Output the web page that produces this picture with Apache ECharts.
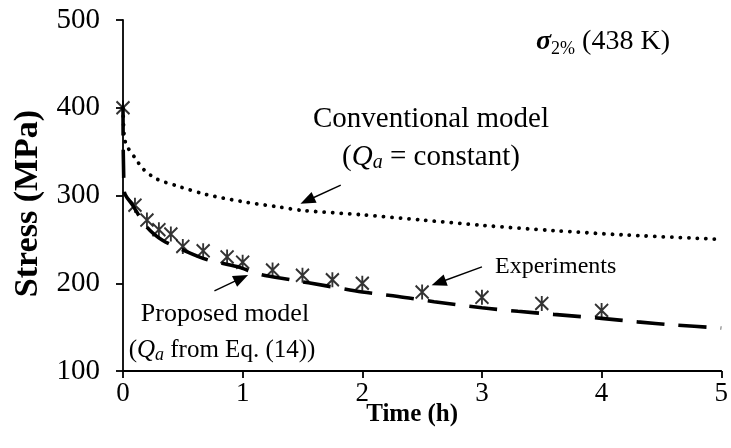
<!DOCTYPE html>
<html>
<head>
<meta charset="utf-8">
<script src="https://cdn.jsdelivr.net/npm/echarts@6/dist/echarts.min.js"></script>
<style>
  html, body { margin: 0; padding: 0; background: #fff; }
  #chart { width: 731px; height: 448px; }
</style>
</head>
<body>
<div id="chart"></div>
<script>
// Creep stress relaxation at 438 K: measured points and two model predictions
const expTime   = [0, 0.1, 0.2, 0.3, 0.4, 0.5, 0.67, 0.87, 1.0, 1.25, 1.5, 1.75, 2.0, 2.5, 3.0, 3.5, 4.0];
const expStress = [400, 289, 272, 261, 256, 242, 237, 230, 224, 215, 209, 204, 200, 190, 184, 177, 169];

const convTime   = [0, 0.01, 0.03, 0.1, 0.17, 0.28, 0.45, 0.7, 1.0, 1.3, 1.5, 2.0, 2.5, 3.0, 3.6, 4.2, 5.0];
const convStress = [400, 368, 357, 343, 330, 319, 311, 301, 293, 287, 283, 278, 272, 266, 260, 255, 250];

const propTime   = [0, 0.01, 0.08, 0.2, 0.33, 0.5, 0.7, 0.95, 1.15, 1.4, 1.7, 2.0, 2.3, 2.6, 3.0, 3.3, 3.6, 4.0, 4.3, 4.6, 5.0];
const propStress = [400, 305, 289, 264, 249, 238, 227, 219, 210, 204, 197, 190, 185, 179, 172, 168, 164.5, 160, 156, 152.5, 149];

const xTicks = [0, 1, 2, 3, 4, 5];
const yTicks = [100, 200, 300, 400, 500];

const zip = (xs, ys) => xs.map((x, i) => [x, ys[i]]);
const serif = '"Liberation Serif", "DejaVu Serif", serif';

const chart = echarts.init(document.getElementById('chart'), null, { renderer: 'canvas' });

chart.setOption({
  animation: false,
  backgroundColor: '#fff',
  grid: { left: 123, right: 8, top: 20, bottom: 77, containLabel: false },
  xAxis: {
    type: 'value',
    min: xTicks[0], max: xTicks[xTicks.length - 1], interval: 1,
    name: 'Time (h)', nameLocation: 'middle', nameGap: 31, nameMoveOverlap: false,
    nameTextStyle: { fontFamily: serif, fontWeight: 'bold', fontSize: 25, color: '#000', padding: [0, 20, 0, 0], verticalAlign: 'top' },
    axisLine: { onZero: false, lineStyle: { color: '#000', width: 1.8 } },
    axisTick: { show: true, inside: false, length: 7, lineStyle: { color: '#000', width: 1.8 } },
    axisLabel: { fontFamily: serif, fontSize: 27, color: '#000', margin: 9 },
    splitLine: { show: false }
  },
  yAxis: {
    type: 'value',
    min: yTicks[0], max: yTicks[yTicks.length - 1], interval: 100,
    name: 'Stress (MPa)', nameLocation: 'middle', nameGap: 78, nameRotate: 90, nameMoveOverlap: false,
    nameTextStyle: { fontFamily: serif, fontWeight: 'bold', fontSize: 34, color: '#000', padding: [0, 16, 0, 0] },
    axisLine: { show: true, onZero: false, lineStyle: { color: '#000', width: 1.8 } },
    axisTick: { show: true, inside: false, length: 7, lineStyle: { color: '#000', width: 1.8 } },
    axisLabel: { fontFamily: serif, fontSize: 29, color: '#000', margin: 23 },
    splitLine: { show: false }
  },
  series: [
    {
      name: 'Conventional model',
      type: 'line',
      data: zip(convTime, convStress),
      smooth: 0.3,
      showSymbol: false,
      lineStyle: { color: '#000', width: 3.8, type: [0.1, 8.4], cap: 'round' },
      markLine: {
        silent: true,
        symbol: ['none', 'triangle'],
        symbolSize: [12, 15],
        label: { show: false },
        lineStyle: { color: '#000', width: 1.4, type: 'solid' },
        data: [
          [{ coord: [1.82, 311.9] }, { coord: [1.54, 294.3] }],
          [{ coord: [3.0, 218.7] }, { coord: [2.638, 200.6] }],
          [{ coord: [0.764, 191.3] }, { coord: [0.989, 205.8] }]
        ]
      }
    },
    {
      name: 'Proposed model',
      type: 'line',
      data: zip(propTime, propStress),
      smooth: 0.3,
      showSymbol: false,
      lineStyle: { color: '#000', width: 3.6, type: [28, 14] }
    },
    {
      name: 'Experiments',
      type: 'scatter',
      data: zip(expTime, expStress),
      symbol: 'path://M0 1L12 13M12 1L0 13M6 0L6 14',
      symbolSize: [13, 15],
      itemStyle: { color: 'rgba(0,0,0,0)', borderColor: '#000', borderWidth: 2 },
      z: 5
    }
  ],
  graphic: [
    {
      type: 'text', left: 536, top: 28,
      style: {
        text: '{g|σ}{sub|2%}{n| (438 K)}',
        rich: {
          g: { fontFamily: serif, fontSize: 28, fontWeight: 'bold', fontStyle: 'italic', fill: '#000' },
          sub: { fontFamily: serif, fontSize: 18, fill: '#000', padding: [14, 0, 0, 0] },
          n: { fontFamily: serif, fontSize: 28, fill: '#000' }
        }
      }
    },
    {
      type: 'text', x: 431, y: 119,
      style: { text: 'Conventional model', fontFamily: serif, fontSize: 29, fill: '#000', align: 'center', verticalAlign: 'middle' }
    },
    {
      type: 'text', x: 431, y: 157,
      style: {
        text: '{n|(}{q|Q}{s|a}{n| = constant)}', align: 'center', verticalAlign: 'middle',
        rich: {
          n: { fontFamily: serif, fontSize: 29, fill: '#000' },
          q: { fontFamily: serif, fontSize: 29, fontStyle: 'italic', fill: '#000' },
          s: { fontFamily: serif, fontSize: 20, fontStyle: 'italic', fill: '#000', padding: [12, 0, 0, 0] }
        }
      }
    },
    {
      type: 'text', x: 495, y: 267,
      style: { text: 'Experiments', fontFamily: serif, fontSize: 24, fill: '#000', align: 'left', verticalAlign: 'middle' }
    },
    {
      type: 'text', x: 225, y: 314,
      style: { text: 'Proposed model', fontFamily: serif, fontSize: 26, fill: '#000', align: 'center', verticalAlign: 'middle' }
    },
    {
      type: 'text', x: 222, y: 350,
      style: {
        text: '{n|(}{q|Q}{s|a}{n| from Eq. (14))}', align: 'center', verticalAlign: 'middle',
        rich: {
          n: { fontFamily: serif, fontSize: 25, fill: '#000' },
          q: { fontFamily: serif, fontSize: 25, fontStyle: 'italic', fill: '#000' },
          s: { fontFamily: serif, fontSize: 18, fontStyle: 'italic', fill: '#000', padding: [11, 0, 0, 0] }
        }
      }
    }
  ]
});
</script>
</body>
</html>
